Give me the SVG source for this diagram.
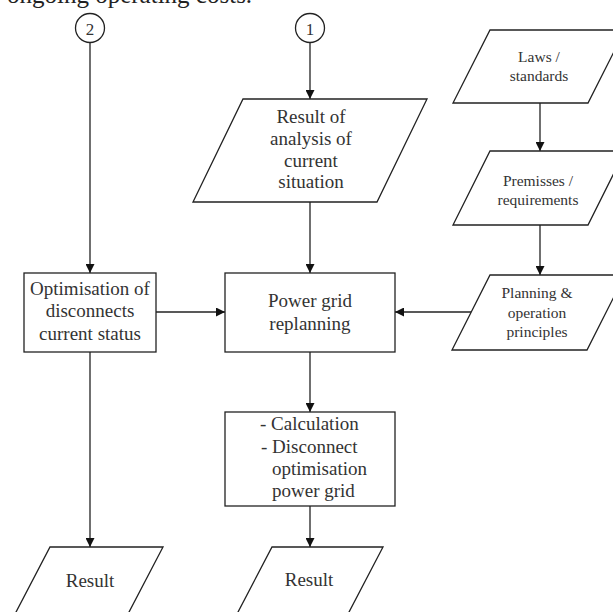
<svg xmlns="http://www.w3.org/2000/svg" width="613" height="612" viewBox="0 0 613 612">
<defs>
<style>
.shape{fill:#fff;stroke:#222;stroke-width:1.3}
.line{fill:none;stroke:#222;stroke-width:1.3}
.t{font-family:"Liberation Serif","Times New Roman",serif;font-size:19px;fill:#333;text-anchor:middle}
.s{font-family:"Liberation Serif","Times New Roman",serif;font-size:15.5px;fill:#333;text-anchor:middle}
.l{text-anchor:start}
</style>
<marker id="arr" viewBox="0 0 10 10" refX="10" refY="5" markerWidth="9" markerHeight="9" markerUnits="userSpaceOnUse" orient="auto">
<path d="M0,0 L10,5 L0,10 Z" fill="#111"/>
</marker>
</defs>
<rect width="613" height="612" fill="#fff"/>
<text x="7" y="3" font-family="Liberation Serif, Times New Roman, serif" font-size="25" fill="#222">ongoing operating costs.</text>

<g id="connectors">
<line class="line" x1="90" y1="42.5" x2="90" y2="273" marker-end="url(#arr)"/>
<line class="line" x1="310" y1="42.5" x2="310" y2="99" marker-end="url(#arr)"/>
<line class="line" x1="310" y1="202" x2="310" y2="273" marker-end="url(#arr)"/>
<line class="line" x1="540" y1="103" x2="540" y2="151" marker-end="url(#arr)"/>
<line class="line" x1="540" y1="225" x2="540" y2="275" marker-end="url(#arr)"/>
<line class="line" x1="471" y1="312" x2="395" y2="312" marker-end="url(#arr)"/>
<line class="line" x1="156" y1="312" x2="225" y2="312" marker-end="url(#arr)"/>
<line class="line" x1="310" y1="352" x2="310" y2="412" marker-end="url(#arr)"/>
<line class="line" x1="310" y1="506" x2="310" y2="547" marker-end="url(#arr)"/>
<line class="line" x1="90" y1="352" x2="90" y2="547" marker-end="url(#arr)"/>
</g>

<g id="c2">
<circle class="shape" cx="90" cy="28" r="14.5"/>
<text class="t" x="90" y="34.5" style="font-size:17px">2</text>
</g>
<g id="c1">
<circle class="shape" cx="310" cy="28" r="14.5"/>
<text class="t" x="310" y="34.5" style="font-size:17px">1</text>
</g>

<g id="analysis">
<polygon class="shape" points="243,99 427,99 377,202 193,202"/>
<text class="t" x="311" y="123">Result of</text>
<text class="t" x="311" y="145">analysis of</text>
<text class="t" x="311" y="167">current</text>
<text class="t" x="311" y="188">situation</text>
</g>

<g id="laws">
<polygon class="shape" points="490,30 625,30 588,103 453,103"/>
<text class="s" x="539" y="62">Laws /</text>
<text class="s" x="539" y="80.5">standards</text>
</g>

<g id="premisses">
<polygon class="shape" points="490,151 625,151 588,225 453,225"/>
<text class="s" x="538" y="186">Premisses /</text>
<text class="s" x="538" y="205">requirements</text>
</g>

<g id="planning">
<polygon class="shape" points="490,275 625,275 587,350 452,350"/>
<text class="s" x="537" y="298">Planning &amp;</text>
<text class="s" x="537" y="318">operation</text>
<text class="s" x="537" y="337">principles</text>
</g>

<g id="optimisation">
<rect class="shape" x="24" y="273" width="132" height="79"/>
<text class="t" x="90" y="295">Optimisation of</text>
<text class="t" x="90" y="317">disconnects</text>
<text class="t" x="90" y="340">current status</text>
</g>

<g id="replanning">
<rect class="shape" x="225" y="273" width="170" height="79"/>
<text class="t" x="310" y="307">Power grid</text>
<text class="t" x="310" y="330">replanning</text>
</g>

<g id="calculation">
<rect class="shape" x="225" y="412" width="170" height="94"/>
<text class="t l" x="260" y="430">- Calculation</text>
<text class="t l" x="261" y="453">- Disconnect</text>
<text class="t l" x="272" y="475">optimisation</text>
<text class="t l" x="272" y="497">power grid</text>
</g>

<g id="result1">
<polygon class="shape" points="50,547 163,547 128,614 15,614"/>
<text class="t" x="90" y="587">Result</text>
</g>

<g id="result2">
<polygon class="shape" points="272,547 383,547 348,614 237,614"/>
<text class="t" x="309" y="586">Result</text>
</g>
</svg>
